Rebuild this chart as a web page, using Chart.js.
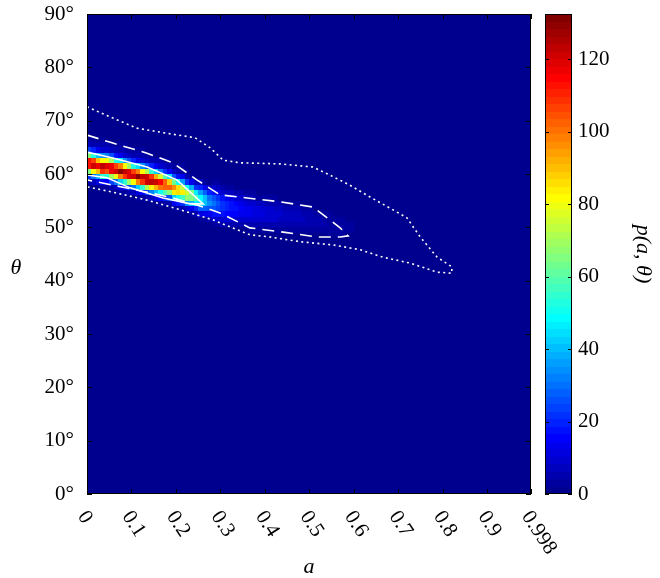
<!DOCTYPE html>
<html><head><meta charset="utf-8">
<script src="https://cdn.jsdelivr.net/npm/chart.js@4.4.0/dist/chart.umd.min.js"></script>
<style>
html,body{margin:0;padding:0;background:#fff;}
#wrap{position:relative;width:660px;height:578px;overflow:hidden;}
#main{position:absolute;left:0;top:0;}
#cbar{position:absolute;left:540px;top:0;}
</style></head><body>
<div id="wrap">
<canvas id="main" width="660" height="578"></canvas>
<canvas id="cbar" width="120" height="578"></canvas>
</div>
<script>
// ---------- data ----------
const xTickValues = [0,0.1,0.2,0.3,0.4,0.5,0.6,0.7,0.8,0.9,0.998];
const xTickLabels = ['0','0.1','0.2','0.3','0.4','0.5','0.6','0.7','0.8','0.9','0.998'];
const yTickValues = [0,10,20,30,40,50,60,70,80,90];
const yTickLabels = ['0°','10°','20°','30°','40°','50°','60°','70°','80°','90°'];
const cbTicks = [0,20,40,60,80,100,120];
const cbMax = 132.5;

// heat map p(a, theta): column j covers a in [0.01j, 0.01(j+1)];
// heatStart[j] = theta (deg) of the first listed 1-degree cell, values go upward
const heatDA = 0.01;
const heatStart = [58,57,57,57,57,57,56,56,56,56,55,55,55,55,54,54,54,54,53,53,53,52,52,52,51,50,50,49,49,49,49,48,48,48,48,48,48,48,47,47,47,47,47,47,47,47,46,46,46,46,46,46,46,45,45,45,45,45,45,44];
const heatCols = [
[5,22,65,112,112,65,24,7,4,1],
[2,7,31,81,122,107,53,19,6,4],
[2,11,39,90,118,90,41,13,5,2],
[4,16,54,108,123,82,34,10,5,3],
[4,16,52,104,119,79,33,10,5,2],
[5,23,69,118,118,69,25,8,4,1],
[2,7,31,80,121,106,53,18,6,4],
[3,12,43,99,130,99,46,14,5,3],
[4,16,54,108,123,81,34,10,5,3],
[5,23,69,119,119,69,26,8,4,1],
[2,7,31,81,122,107,53,19,6,4],
[3,12,43,98,129,98,45,14,5,3],
[4,16,54,108,123,82,34,10,5,3],
[5,24,71,122,122,71,26,8,4,1],
[2,8,32,83,124,109,55,19,6,4],
[2,11,40,93,122,93,43,13,5,2],
[3,15,50,100,114,75,31,9,5,2],
[4,20,59,102,102,59,22,7,3,1],
[2,6,26,68,102,89,45,16,5,3],
[3,13,42,84,96,64,26,8,4,2],
[4,17,50,86,86,50,18,6,3,1],
[1,5,22,56,84,74,37,13,4,3],
[2,10,34,67,76,51,21,6,3,2],
[3,13,38,65,65,38,14,4,2,1],
[1,5,20,46,60,46,21,7,2,1],
[1,4,12,28,45,49,37,19,7,2,1,0],
[1,4,13,27,40,40,27,13,4,1,0,0],
[0,1,5,13,26,34,31,19,8,2,1,0],
[1,4,9,18,26,29,26,18,9,4,1,0],
[2,4,10,17,23,25,21,13,7,3,1,0],
[2,5,10,17,21,21,17,10,5,2,0,0],
[1,2,5,11,16,20,19,14,8,3,1,0],
[1,2,5,10,15,18,17,12,7,3,1,0],
[1,2,5,10,15,17,15,10,5,2,1,0],
[1,2,5,9,13,15,13,9,5,2,1,0],
[1,2,5,10,13,14,11,7,4,2,0,0],
[1,3,6,10,13,13,10,6,3,1,0,0],
[1,3,6,9,12,12,9,6,3,1,0,0],
[0,1,3,6,9,11,11,8,4,2,1,0],
[0,1,3,6,9,11,10,7,4,2,1,0],
[0,1,3,6,9,10,9,6,3,1,0,0],
[0,1,3,6,9,10,9,6,3,1,0,0],
[1,2,4,6,9,9,8,5,3,1,0,0],
[1,2,4,6,8,9,7,5,2,1,0,0],
[1,2,4,6,8,8,6,4,2,1,0,0],
[1,2,4,6,8,8,6,4,2,1,0,0],
[0,1,2,4,6,7,7,5,3,1,0,0],
[0,1,2,4,6,7,7,5,3,1,0,0],
[0,1,2,4,6,7,6,4,2,1,0,0],
[0,1,2,4,5,6,5,4,2,1,0,0],
[0,1,2,4,5,6,5,3,2,1,0,0],
[0,1,2,4,5,5,4,2,1,0,0,0],
[0,1,2,4,5,5,4,2,1,0,0,0],
[0,1,1,2,4,5,4,3,2,1,0,0],
[0,1,1,3,4,4,4,3,1,1,0,0],
[0,1,1,2,4,4,4,2,1,1,0,0],
[0,1,1,3,3,4,3,2,1,0,0,0],
[0,1,2,3,3,3,3,2,1,0,0,0],
[0,1,1,2,3,3,2,1,1,0,0,0],
[0,0,1,1,2,3,3,2,1,0,0,0]
];

// contour paths (a, theta)
const dottedA = [0,0.052,0.112,0.175,0.243,0.277,0.306,0.344,0.434,0.508,0.546,0.591,0.636,0.681,0.719,0.733,0.749,0.787,0.820,0.820,0.787,0.726,0.665,0.614,0.553,0.479,0.411,0.366,0.283,0.209,0.135,0.058,0];
const dottedT = [72.6,70.7,68.6,67.7,66.8,64.9,62.6,62.1,61.9,61.3,59.8,57.9,55.7,53.6,51.8,50.1,48.2,44.4,42.6,41.4,41.6,43.3,44.4,45.8,46.7,47.3,48.2,48.6,51.4,53.3,55.1,56.6,57.6];
const dashedA = [0,0.058,0.135,0.193,0.247,0.299,0.360,0.434,0.508,0.569,0.587,0.569,0.517,0.441,0.366,0.299,0.247,0.193,0.135,0.058,0];
const dashedT = [67.3,65.8,63.9,62.1,58.9,56.1,55.5,54.8,53.8,49.9,48.4,48.2,48.2,49.1,49.9,52.7,54.2,55.5,56.6,57.9,58.9];
const solidA = [0,0.058,0.135,0.202,0.232,0.261,0.232,0.171,0.097,0.045,0];
const solidT = [64.1,63.0,61.3,58.9,56.6,54.4,54.4,55.5,57.4,59.3,59.8];

// ---------- helpers ----------
const FONT = '"Liberation Serif","Times New Roman",serif';
function jetRGB(k){
  const u = i => (i<0||i>46) ? 0 : (i<16 ? (i+1)/16 : (i<31 ? 1 : (47-i)/16));
  return [u(k-24),u(k-8),u(k+8)];
}
function jetColor(k){
  const c = jetRGB(k);
  return 'rgb('+Math.round(c[0]*255)+','+Math.round(c[1]*255)+','+Math.round(c[2]*255)+')';
}
function jet(v){
  let k = Math.floor(v/cbMax*64);
  k = Math.max(0, Math.min(63, k));
  return jetColor(k);
}
function closedPts(A,T){
  const p = A.map((a,i)=>({x:a,y:T[i]}));
  p.push({x:A[0],y:T[0]});
  return p;
}
function noOverhang(s){ s.paddingTop = 0; s.paddingBottom = 0; s.paddingLeft = 0; s.paddingRight = 0; }

const heatPlugin = {
  id:'heat',
  beforeDatasetsDraw(chart){
    const {ctx, chartArea:ca, scales:{x,y}} = chart;
    ctx.save();
    ctx.beginPath(); ctx.rect(ca.left,ca.top,ca.width,ca.height); ctx.clip();
    ctx.fillStyle = jet(0);
    ctx.fillRect(ca.left,ca.top,ca.width,ca.height);
    heatCols.forEach((col,j)=>{
      const a0 = j*heatDA;
      const x0 = Math.round(x.getPixelForValue(a0)), x1 = Math.round(x.getPixelForValue(a0+heatDA));
      col.forEach((v,i)=>{
        const t0 = heatStart[j]+i;
        const y0 = Math.round(y.getPixelForValue(t0+1)), y1 = Math.round(y.getPixelForValue(t0));
        ctx.fillStyle = jet(v);
        ctx.fillRect(x0,y0,x1-x0,y1-y0);
      });
    });
    ctx.restore();
  }
};

const framePlugin = {
  id:'frame',
  afterDraw(chart){
    const {ctx, chartArea:ca, scales:{x,y}} = chart;
    ctx.save();
    ctx.strokeStyle = '#000'; ctx.lineWidth = 1;
    const L = 5;
    ctx.beginPath();
    xTickValues.forEach(v=>{
      const px = Math.round(x.getPixelForValue(v))+0.5;
      ctx.moveTo(px, ca.bottom); ctx.lineTo(px, ca.bottom-L);
      ctx.moveTo(px, ca.top); ctx.lineTo(px, ca.top+L);
    });
    yTickValues.forEach(v=>{
      const py = Math.round(y.getPixelForValue(v))+0.5;
      ctx.moveTo(ca.left, py); ctx.lineTo(ca.left+L, py);
      ctx.moveTo(ca.right, py); ctx.lineTo(ca.right-L, py);
    });
    ctx.stroke();
    ctx.strokeRect(Math.round(ca.left)+0.5, Math.round(ca.top)+0.5, Math.round(ca.width)-1, Math.round(ca.height)-1);
    // rotated x tick labels
    ctx.fillStyle = '#000';
    ctx.font = '21px ' + FONT;
    ctx.textAlign = 'left'; ctx.textBaseline = 'middle';
    xTickValues.forEach((v,i)=>{
      const px = x.getPixelForValue(v);
      ctx.save();
      ctx.translate(px-5, ca.bottom+19);
      ctx.rotate(57*Math.PI/180);
      ctx.fillText(xTickLabels[i], 0, 0);
      ctx.restore();
    });
    // y axis label
    ctx.font = 'italic 22px ' + FONT;
    ctx.textAlign = 'center';
    ctx.fillText('θ', 16, (ca.top+ca.bottom)/2 + 14);
    ctx.restore();
  }
};

new Chart(document.getElementById('main'), {
  type:'scatter',
  data:{datasets:[
    {data:closedPts(dottedA,dottedT), showLine:true, borderColor:'#fff', borderWidth:1.6, borderDash:[2,3.4], pointRadius:0, tension:0, fill:false},
    {data:closedPts(dashedA,dashedT), showLine:true, borderColor:'#fff', borderWidth:1.6, borderDash:[12,7], pointRadius:0, tension:0, fill:false},
    {data:closedPts(solidA,solidT), showLine:true, borderColor:'#fff', borderWidth:1.6, pointRadius:0, tension:0, fill:false}
  ]},
  options:{
    responsive:false, animation:false,
    layout:{padding:{top:14,right:129,left:0,bottom:0}},
    plugins:{legend:{display:false}, tooltip:{enabled:false}},
    scales:{
      x:{type:'linear', min:0, max:0.998,
         afterBuildTicks:s=>{s.ticks = xTickValues.map(v=>({value:v}));},
         afterFit:s=>{s.height = 84; noOverhang(s);},
         ticks:{display:false},
         grid:{display:false, drawTicks:false}, border:{display:false},
         title:{display:true, text:'a', color:'#000', font:{family:FONT, size:22, style:'italic', lineHeight:1}, padding:{top:0,bottom:0}}},
      y:{type:'linear', min:0, max:90,
         afterBuildTicks:s=>{s.ticks = yTickValues.map(v=>({value:v}));},
         afterFit:s=>{s.width = 87; noOverhang(s);},
         ticks:{callback:v=>yTickLabels[yTickValues.indexOf(v)], color:'#000', font:{family:FONT, size:21}, padding:13},
         grid:{display:false, drawTicks:false}, border:{display:false}}
    }
  },
  plugins:[heatPlugin, framePlugin]
});

const cbPlugin = {
  id:'cb',
  afterDraw(chart){
    const {ctx, chartArea:ca, scales:{y}} = chart;
    ctx.save();
    for (let k=0;k<64;k++){
      const y0 = Math.round(y.getPixelForValue((k+1)*cbMax/64));
      const y1 = Math.round(y.getPixelForValue(k*cbMax/64));
      ctx.fillStyle = jetColor(k);
      ctx.fillRect(ca.left, y0, ca.width, y1-y0);
    }
    ctx.strokeStyle = '#000'; ctx.lineWidth = 1;
    ctx.strokeRect(Math.round(ca.left)+0.5, Math.round(ca.top)+0.5, Math.round(ca.width)-1, Math.round(ca.height)-1);
    ctx.beginPath();
    cbTicks.forEach(v=>{
      const py = Math.round(y.getPixelForValue(v))+0.5;
      ctx.moveTo(ca.left, py); ctx.lineTo(ca.left+4, py);
      ctx.moveTo(ca.right, py); ctx.lineTo(ca.right-4, py);
    });
    ctx.stroke();
    ctx.restore();
  }
};

new Chart(document.getElementById('cbar'), {
  type:'scatter',
  data:{datasets:[]},
  options:{
    responsive:false, animation:false,
    layout:{padding:{top:14,bottom:84,left:5,right:0}},
    plugins:{legend:{display:false}, tooltip:{enabled:false}},
    scales:{
      x:{display:false, min:0, max:1},
      y:{position:'right', min:0, max:cbMax,
         afterBuildTicks:s=>{s.ticks = cbTicks.map(v=>({value:v}));},
         afterFit:s=>{s.width = 88; noOverhang(s);},
         ticks:{color:'#000', font:{family:FONT, size:21}, padding:6},
         grid:{display:false, drawTicks:false}, border:{display:false},
         title:{display:true, text:'p(a, θ)', color:'#000', font:{family:FONT, size:22, style:'italic'}, padding:4}}
    }
  },
  plugins:[cbPlugin]
});
</script>
</body></html>
